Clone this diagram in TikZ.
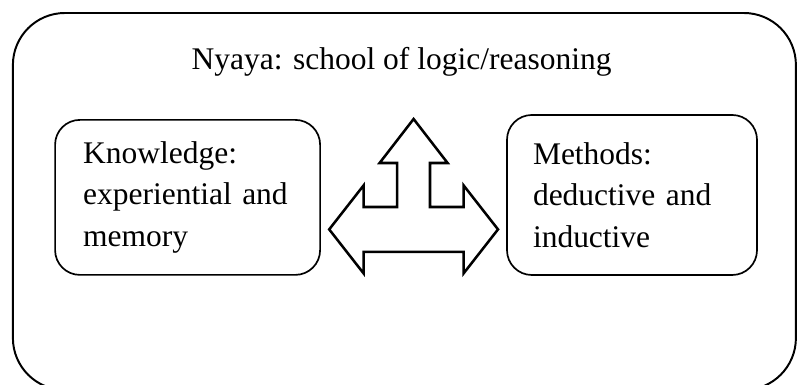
\documentclass[tikz,border=0pt]{standalone}
\usepackage{fontspec}
\setmainfont{Liberation Serif}
\usepackage{tikz}

\begin{document}
\begin{tikzpicture}
    [
    frame/.style={rectangle,draw,rounded corners=1.3cm,line width=1.4pt,
        minimum width=19.575cm,minimum height=9.425cm},
    box/.style={rectangle,draw,rounded corners=0.62cm,line width=1.2pt,
        align=left,inner sep=0pt,font=\fontsize{22.4}{29.5}\selectfont},
    title/.style={anchor=base,inner sep=0pt,font=\fontsize{22.4}{29.5}\selectfont},
    bigarrow/.style={draw,line width=1.8pt}
    ]
\path[use as bounding box,clip] (0,0) rectangle (19.95,9.625);
\node[frame] (nyaya) at (10.11,4.5875) {};
\node[title] (head) at (10.04,7.875) {Nyaya: school of logic/reasoning};
\node[box,minimum width=6.625cm,minimum height=3.875cm,text width=5.225cm]
    (know) at (4.69,4.69) {Knowledge:\\experiential and\\memory};
\node[box,minimum width=6.25cm,minimum height=4cm,text width=4.95cm]
    (meth) at (15.8,4.75) {Methods:\\deductive and\\inductive};
\coordinate (hub) at (10.34,3.89);
\draw[bigarrow,shift={(hub)}]
    (-2.11,0) -- (-1.25,1.1) -- (-1.25,0.56) -- (-0.41,0.56) -- (-0.41,1.66)
    -- (-0.85,1.66) -- (0,2.76) -- (0.85,1.66) -- (0.41,1.66) -- (0.41,0.56)
    -- (1.25,0.56) -- (1.25,1.1) -- (2.11,0) -- (1.25,-1.1) -- (1.25,-0.56)
    -- (-1.25,-0.56) -- (-1.25,-1.1) -- cycle;
\end{tikzpicture}
\end{document}
